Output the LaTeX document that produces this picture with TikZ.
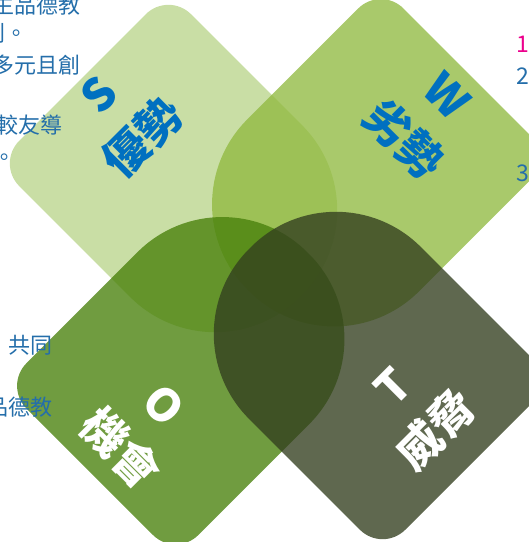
\documentclass[tikz,border=0pt]{standalone}
\usepackage{fontspec}
\newfontfamily\cjk{Noto Sans CJK TC}

\definecolor{sgreen}{RGB}{186,213,140}
\definecolor{wgreen}{RGB}{145,186,65}
\definecolor{ogreen}{RGB}{72,128,10}
\definecolor{tolive}{RGB}{50,62,30}
\definecolor{swblue}{RGB}{0,112,192}
\definecolor{noteblue}{RGB}{36,110,170}

% one leaf: centre x, centre y, angle, style
\newcommand{\swotleaf}[4]{%
  \path[#4, shift={(#1,#2)}, rotate=#3]
    (-122.5,-121.5) -- (34.5,-121.5) arc[start angle=-90, end angle=0, radius=120]
    -- (154.5,1.5) arc[start angle=0, end angle=90, radius=120]
    -- (-122.5,121.5) arc[start angle=90, end angle=180, radius=32]
    -- (-154.5,-89.5) arc[start angle=180, end angle=270, radius=32] -- cycle;}

\tikzset{
  leaf/.style={fill=#1, fill opacity=0.78},
  leaftext/.style={font=\cjk\bfseries\fontsize{45}{61}\selectfont, align=center, inner sep=0pt},
  sidenote/.style={font=\cjk\fontsize{22}{26}\selectfont, text=noteblue, inner sep=0pt, anchor=east},
  sidenum/.style={font=\cjk\fontsize{23}{26}\selectfont, text=noteblue, inner sep=0pt, anchor=west}
}

\begin{document}
\begin{tikzpicture}[x=1pt, y=1pt]
    \useasboundingbox (0,0) rectangle (529,-542);
    \clip (0,0) rectangle (529,-542);

    \swotleaf{191.75}{-186.75}{-45}{leaf=sgreen}
    \swotleaf{357.5}{-181}{-135}{leaf=wgreen}
    \swotleaf{199}{-362.5}{45}{leaf=ogreen}
    \swotleaf{359.25}{-357.25}{135}{leaf=tolive}

    \node[leaftext, text=swblue, rotate=45] (s-label) at (122,-117) {S\\優勢};
    \node[leaftext, text=swblue, rotate=-45] (w-label) at (424,-119) {W\\劣勢};
    \node[leaftext, text=white, rotate=-45] (o-label) at (141,-428) {O\\機會};
    \node[leaftext, text=white, rotate=45] (t-label) at (416,-410) {T\\威脅};

    % cut-off notes at the sides
    \node[sidenote] (note1) at (81,-5) {學生品德教};
    \node[sidenote] (note2) at (28,-33) {原則。};
    \node[sidenote] (note3) at (81,-65) {多元且創};
    \node[sidenote] (note4) at (63,-125) {比較友導};
    \node[sidenote] (note5) at (15.5,-157) {師。};
    \node[sidenote] (note6) at (53,-345) {共同};
    \node[sidenote] (note7) at (53,-407) {品德教};

    \node[sidenum, text=magenta] (item1) at (516,-44) {1};
    \node[sidenum] (item2) at (516,-76) {2};
    \node[sidenum] (item3) at (516,-173) {3};
\end{tikzpicture}
\end{document}
